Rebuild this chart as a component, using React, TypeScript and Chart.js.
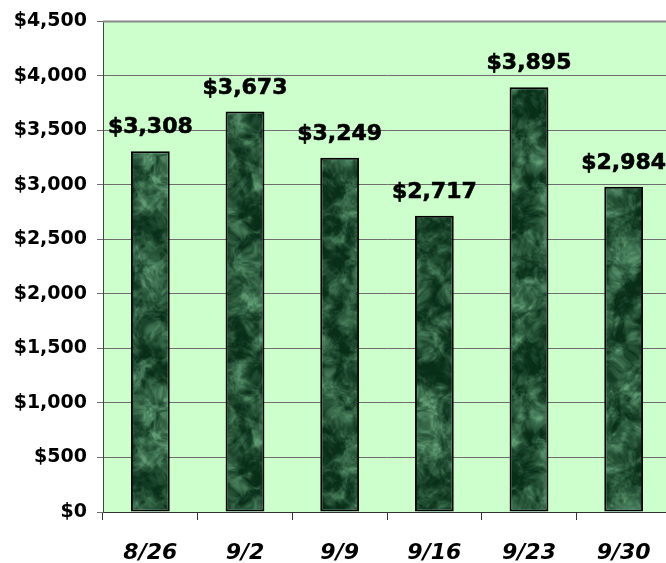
import React, { useEffect, useRef } from "react";
import { Chart, registerables } from "chart.js";

Chart.register(...registerables);

const categories = ["8/26", "9/2", "9/9", "9/16", "9/23", "9/30"];
const salesValues = [3308, 3673, 3249, 2717, 3895, 2984];
const yTickMax = 4500;
const yTickStep = 500;

function makeMarble(): CanvasPattern | string {
  const size = 256;
  const c = document.createElement("canvas");
  c.width = size;
  c.height = size;
  const ctx = c.getContext("2d");
  if (!ctx) return "#1a4d2e";
  let seed = 424242;
  const rnd = () => {
    seed = (seed * 1103515245 + 12345) & 0x7fffffff;
    return seed / 0x7fffffff;
  };
  const octave = (cell: number) => {
    const n = size / cell;
    const g: number[] = [];
    for (let i = 0; i < n * n; i++) g.push(rnd());
    return (x: number, y: number) => {
      x = ((x % size) + size) % size;
      y = ((y % size) + size) % size;
      const gx = x / cell, gy = y / cell;
      const x0 = Math.floor(gx), y0 = Math.floor(gy);
      const fx = gx - x0, fy = gy - y0;
      const sx = fx * fx * (3 - 2 * fx), sy = fy * fy * (3 - 2 * fy);
      const at = (a: number, b: number) => g[((b % n) * n) + (a % n)];
      const a = at(x0, y0) * (1 - sx) + at(x0 + 1, y0) * sx;
      const b = at(x0, y0 + 1) * (1 - sx) + at(x0 + 1, y0 + 1) * sx;
      return a * (1 - sy) + b * sy;
    };
  };
  const o1 = octave(32), o2 = octave(16), o3 = octave(8), o4 = octave(4), o5 = octave(2);
  const w1 = octave(16);
  const fbm = (x: number, y: number) =>
    o1(x, y) * 0.2 + o2(x, y) * 0.28 + o3(x, y) * 0.25 + o4(x, y) * 0.16 + o5(x, y) * 0.11;
  const img = ctx.createImageData(size, size);
  const dark = [8, 46, 24];
  const light = [96, 156, 116];
  for (let y = 0; y < size; y++) {
    for (let x = 0; x < size; x++) {
      const wx = (w1(x, y) - 0.5) * 10;
      const wy = (w1(y, x) - 0.5) * 10;
      let v = fbm(x + wx, y + wy);
      v = Math.max(0, Math.min(1, (v - 0.32) * 2.2));
      v = Math.pow(v, 1.4);
      const i = (y * size + x) * 4;
      img.data[i] = dark[0] + (light[0] - dark[0]) * v;
      img.data[i + 1] = dark[1] + (light[1] - dark[1]) * v;
      img.data[i + 2] = dark[2] + (light[2] - dark[2]) * v;
      img.data[i + 3] = 255;
    }
  }
  ctx.putImageData(img, 0, 0);
  const p = ctx.createPattern(c, "repeat");
  return p || "#1a4d2e";
}

const plotBg = {
  id: "plotBg",
  beforeDraw(chart: any) {
    const { ctx, chartArea } = chart;
    ctx.save();
    ctx.fillStyle = "#ccffcc";
    ctx.fillRect(chartArea.left, chartArea.top, chartArea.right - chartArea.left, chartArea.bottom - chartArea.top);
    ctx.restore();
  },
  afterDraw(chart: any) {
    const { ctx, chartArea } = chart;
    ctx.save();
    ctx.strokeStyle = "#888888";
    ctx.lineWidth = 2;
    ctx.beginPath();
    ctx.moveTo(chartArea.left, chartArea.top);
    ctx.lineTo(chartArea.right, chartArea.top);
    ctx.lineTo(chartArea.right, chartArea.bottom);
    ctx.stroke();
    ctx.restore();
  },
};

const valueLabels = {
  id: "valueLabels",
  afterDatasetsDraw(chart: any) {
    const { ctx } = chart;
    const meta = chart.getDatasetMeta(0);
    ctx.save();
    ctx.fillStyle = "#000000";
    ctx.strokeStyle = "#000000";
    ctx.lineWidth = 0.6;
    ctx.font = "bold 22px 'DejaVu Sans'";
    ctx.textAlign = "center";
    ctx.textBaseline = "alphabetic";
    meta.data.forEach((bar: any, i: number) => {
      const t = "$" + salesValues[i].toLocaleString("en-US");
      ctx.fillText(t, bar.x, bar.y - 18);
      ctx.strokeText(t, bar.x, bar.y - 18);
    });
    ctx.restore();
  },
};

export default function App() {
  const ref = useRef<HTMLCanvasElement>(null);
  useEffect(() => {
    if (!ref.current) return;
    const marble = makeMarble();
    const chart = new Chart(ref.current, {
      type: "bar",
      data: {
        labels: categories,
        datasets: [
          {
            data: salesValues,
            backgroundColor: marble as any,
            borderColor: "#000000",
            borderWidth: 2,
            borderSkipped: false,
            barPercentage: 0.41,
            categoryPercentage: 1,
          },
        ],
      },
      options: {
        animation: false,
        responsive: false,
        maintainAspectRatio: false,
        layout: { padding: { top: 19, right: 9, left: 0, bottom: 0 } },
        plugins: { legend: { display: false }, tooltip: { enabled: false } },
        scales: {
          x: {
            grid: { drawOnChartArea: false, drawTicks: true, tickLength: 8, color: "#333333", offset: true },
            border: { color: "#333333", width: 1 },
            ticks: {
              color: "#000000",
              font: { family: "'DejaVu Sans'", size: 22, weight: "bold", style: "italic" },
              padding: 20,
              maxRotation: 0,
            },
            afterFit: (s: any) => {
              s.height = 51;
            },
          },
          y: {
            min: 0,
            max: yTickMax,
            grid: { color: "#6e6e6e", lineWidth: 1, tickLength: 6, drawTicks: true },
            border: { color: "#444444", width: 1 },
            ticks: {
              stepSize: yTickStep,
              color: "#000000",
              padding: 10,
              font: { family: "'DejaVu Sans'", size: 19, weight: "bold" },
              callback: (v: any) => "$" + Number(v).toLocaleString("en-US"),
            },
            afterFit: (s: any) => {
              s.width = 103;
            },
          },
        },
      },
      plugins: [plotBg, valueLabels],
    });
    return () => chart.destroy();
  }, []);
  return (
    <div style={{ position: "fixed", left: 0, top: 0, width: 666, height: 563, overflow: "hidden", background: "#ffffff" }}>
      <canvas ref={ref} width={680} height={563} style={{ display: "block" }} />
    </div>
  );
}
